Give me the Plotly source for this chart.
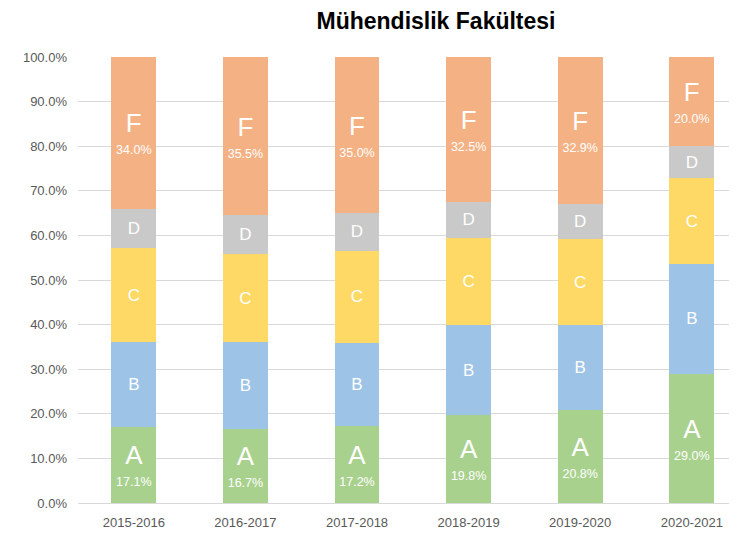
import plotly.graph_objects as go

years = ["2015-2016", "2016-2017", "2017-2018", "2018-2019", "2019-2020", "2020-2021"]
grades = ["A", "B", "C", "D", "F"]
A = [17.1, 16.7, 17.2, 19.8, 20.8, 29.0]
B = [19.0, 19.3, 18.6, 20.0, 19.0, 24.6]
C = [21.0, 19.9, 20.8, 19.7, 19.5, 19.2]
D = [8.9, 8.6, 8.4, 8.0, 7.8, 7.2]
F = [34.0, 35.5, 35.0, 32.5, 32.9, 20.0]
series = {"A": A, "B": B, "C": C, "D": D, "F": F}
colors = {"A": "#A9D18E", "B": "#9DC3E6", "C": "#FFD966", "D": "#C9C9C9", "F": "#F4B183"}
show_pct = {"A": True, "B": False, "C": False, "D": False, "F": True}

fig = go.Figure()
for g in grades:
    vals = series[g]
    if show_pct[g]:
        texts = [f"<span style='font-size:26px'>{g}</span><br><span style='font-size:12.5px'>{v:.1f}%</span>" for v in vals]
    else:
        texts = [g for v in vals]
    fig.add_trace(go.Bar(
        x=years, y=[v / 100 for v in vals], name=g,
        marker=dict(color=colors[g], line=dict(width=0)),
        text=texts, textposition="inside", insidetextanchor="middle",
        textangle=0, constraintext="none",
        textfont=dict(color="white", size=17, family="Liberation Sans, Arial"),
        hoverinfo="skip",
    ))

W, H = 729, 531
fig.update_layout(
    barmode="stack", bargap=0.6,
    width=W, height=H,
    margin=dict(l=70, r=0, t=49, b=36),
    paper_bgcolor="white", plot_bgcolor="white",
    showlegend=False,
    title=dict(text="<b>Mühendislik Fakültesi</b>", x=428 / W, xref="container", xanchor="center",
               y=1 - 13 / H, yref="container", yanchor="middle",
               font=dict(size=23, color="black", family="Liberation Sans, Arial")),
    font=dict(family="Liberation Sans, Arial", color="#595959"),
)
fig.update_xaxes(range=[-0.5, 5.405], showgrid=False, showline=False, ticks="",
                 ticklabelstandoff=10,
                 tickfont=dict(size=13, color="#595959"))
fig.update_yaxes(range=[0, 1], dtick=0.1, tickformat=".1%", showgrid=True, gridcolor="#D9D9D9",
                 gridwidth=1, zeroline=True, zerolinecolor="#D9D9D9", zerolinewidth=1,
                 showline=False, ticks="", ticklabelstandoff=10,
                 tickfont=dict(size=13, color="#595959"))

fig.write_html("out.html")
